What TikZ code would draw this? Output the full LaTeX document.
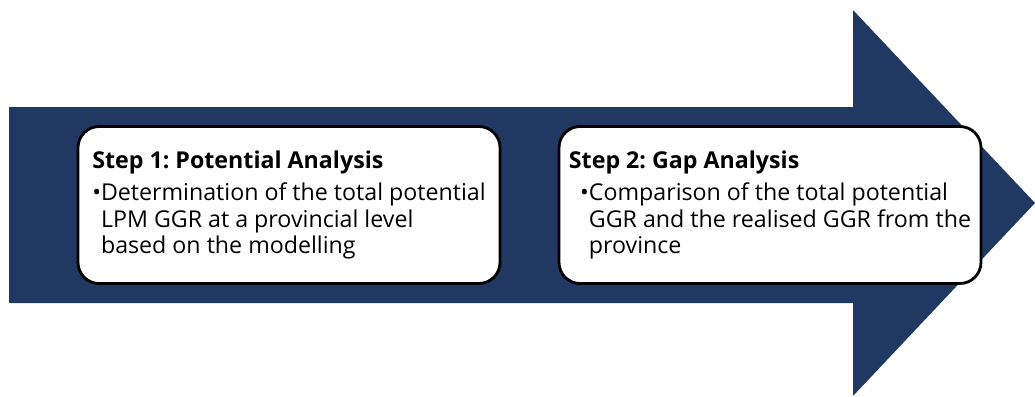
\documentclass[tikz,border=0pt]{standalone}
\usepackage{fontspec}
\setmainfont{Open Sans}
\frenchspacing
\definecolor{navy}{RGB}{33,56,99}
\tikzset{
    stepbox/.style={draw, rounded corners=15pt, line width=2pt, fill=white, align=left,
        minimum width=422*0.025cm, minimum height=157*0.025cm, inner sep=0pt,
        font=\fontsize{16.5}{19}\selectfont},
}
\begin{document}
\begin{tikzpicture}[x=0.025cm, y=-0.025cm]
    \useasboundingbox (0,0) rectangle (1035,396);
    % big arrow behind the steps
    \fill[navy] (9,107) -- (853,107) -- (853,10) -- (1035,203) -- (853,396) -- (853,303) -- (9,303) -- cycle;
    \node[stepbox] (step1) at (289,205) {\textbf{Step 1: Potential Analysis}\\[4pt]
        \textbullet Determination of the total potential\\
        \phantom{\textbullet}LPM GGR at a provincial level\\
        \phantom{\textbullet}based on the modelling};
    \node[stepbox] (step2) at (770,205) {\textbf{Step 2: Gap Analysis}\\[4pt]
        \hspace*{8pt}\textbullet Comparison of the total potential\\
        \hspace*{8pt}\phantom{\textbullet}GGR and the realised GGR from the\\
        \hspace*{8pt}\phantom{\textbullet}province};
\end{tikzpicture}
\end{document}
